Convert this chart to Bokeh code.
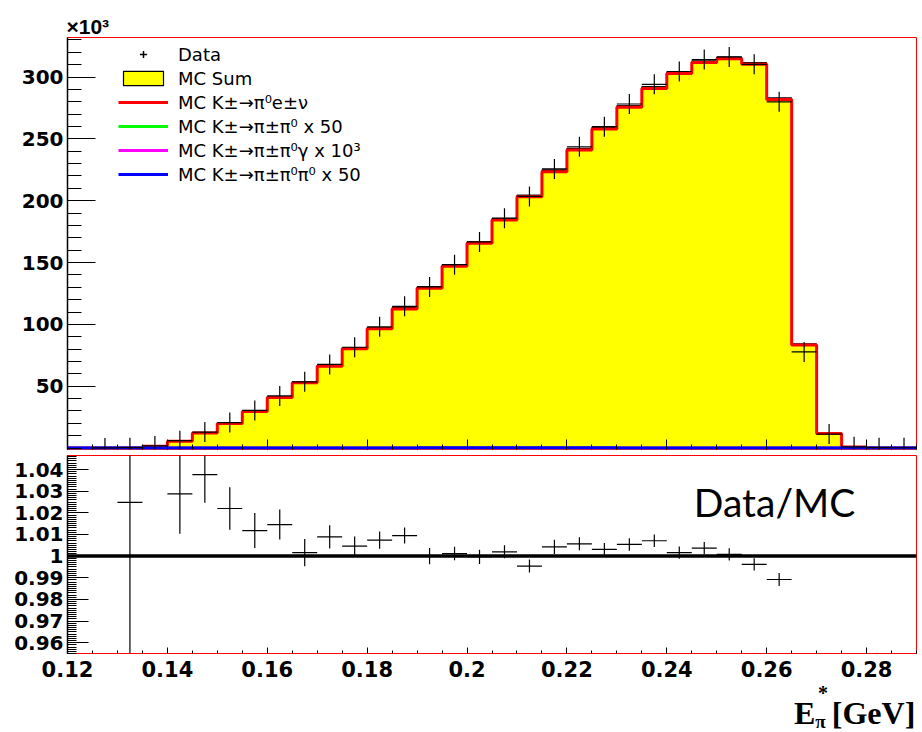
import numpy as np
from bokeh.plotting import figure
from bokeh.layouts import column
from bokeh.models import (FixedTicker, Span, Label, Legend, LegendItem, Range1d)
from bokeh.embed import file_html
from bokeh.resources import INLINE

nan = float("nan")

# ---------------- data (values in units of 10^3 entries) ----------------
bin_low = 0.12
bin_width = 0.005
n_bins = 34

mc_sum = [0.0, 0.05, 0.3, 1.6, 5.7, 12.4, 20.2, 30.0, 41.5, 53.4, 67.0, 81.1,
          97.3, 113.5, 130.3, 148.1, 166.7, 185.5, 204.4, 224.7, 242.2, 259.1,
          276.7, 292.0, 304.0, 313.0, 316.0, 311.5, 283.0, 84.0, 11.9, 1.0, 0.3, 0.2]

mc_ke3 = [0.0, 0.04, 0.28, 1.5, 5.5, 12.1, 19.8, 29.5, 40.9, 52.7, 66.2, 80.3,
          96.4, 112.5, 129.3, 147.0, 165.6, 184.4, 203.3, 223.5, 241.0, 257.9,
          275.5, 290.8, 302.8, 311.8, 314.8, 310.3, 281.9, 83.4, 11.7, 0.9, 0.25, 0.15]

mc_kp2_x50 = [0.0, 0.0, 0.0, 0.0, 0.01, 0.01, 0.02, 0.02, 0.03, 0.03, 0.04, 0.04,
              0.05, 0.05, 0.06, 0.06, 0.07, 0.07, 0.08, 0.08, 0.09, 0.09,
              0.1, 0.1, 0.1, 0.1, 0.1, 0.1, 0.09, 0.03, 0.01, 0.0, 0.0, 0.0]

mc_kp2g_x1000 = [0.0, 0.0, 0.0, 0.0, 0.01, 0.01, 0.01, 0.02, 0.02, 0.02, 0.03, 0.03,
                 0.03, 0.04, 0.04, 0.04, 0.05, 0.05, 0.05, 0.06, 0.06, 0.06,
                 0.07, 0.07, 0.07, 0.07, 0.07, 0.07, 0.06, 0.02, 0.0, 0.0, 0.0, 0.0]

mc_kp3_x50 = [0.0, 0.0, 0.0, 0.01, 0.02, 0.03, 0.04, 0.05, 0.06, 0.07, 0.08, 0.09,
              0.1, 0.11, 0.12, 0.12, 0.13, 0.13, 0.13, 0.13, 0.12, 0.12,
              0.11, 0.1, 0.09, 0.08, 0.07, 0.06, 0.05, 0.02, 0.0, 0.0, 0.0, 0.0]

data = [nan, 0.05, 0.31, 1.7, 5.9, 12.9, 20.6, 30.4, 42.1, 53.5, 67.6, 81.5,
        98.0, 114.6, 130.3, 148.3, 166.6, 185.9, 203.5, 225.7, 243.6, 259.9,
        278.2, 294.1, 304.5, 314.2, 316.3, 310.3, 280.0, 77.7, 11.3, 1.0, 0.3, 0.2]

ratio = [nan, nan, 1.0248, nan, 1.0288, 1.0377, 1.0220, 1.0118, 1.0146, 1.0016,
         1.0089, 1.0046, 1.0074, 1.0095, 1.0000, 1.0012, 0.9997, 1.0020, 0.9954,
         1.0043, 1.0057, 1.0031, 1.0054, 1.0071, 1.0016, 1.0037, 1.0008, 0.9962,
         0.9892, nan, nan, nan, nan, nan]

ratio_err = [nan, nan, 0.1, nan, 0.0185, 0.013, 0.0098, 0.0081, 0.0069, 0.0063,
             0.0054, 0.0045, 0.004, 0.0037, 0.0037, 0.0031, 0.0033, 0.003, 0.003,
             0.0033, 0.003, 0.003, 0.0029, 0.0029, 0.0028, 0.0028, 0.0028, 0.0028,
             0.003, nan, nan, nan, nan, nan]

x_ticks = [0.12, 0.14, 0.16, 0.18, 0.2, 0.22, 0.24, 0.26, 0.28]
x_tick_labels = ["0.12", "0.14", "0.16", "0.18", "0.2", "0.22", "0.24", "0.26", "0.28"]
y_ticks_top = [50, 100, 150, 200, 250, 300]
y_ticks_ratio = [0.96, 0.97, 0.98, 0.99, 1.0, 1.01, 1.02, 1.03, 1.04]
y_tick_labels_ratio = ["0.96", "0.97", "0.98", "0.99", "1", "1.01", "1.02", "1.03", "1.04"]

legend_labels = ["Data", "MC Sum", "MC K\u00b1\u2192\u03c0\u2070e\u00b1\u03bd",
                 "MC K\u00b1\u2192\u03c0\u00b1\u03c0\u2070 x 50",
                 "MC K\u00b1\u2192\u03c0\u00b1\u03c0\u2070\u03b3 x 10\u00b3",
                 "MC K\u00b1\u2192\u03c0\u00b1\u03c0\u2070\u03c0\u2070 x 50"]

# ---------------- derived arrays ----------------
edges = np.round(bin_low + bin_width * np.arange(n_bins + 1), 4)
lo = edges[:-1]
hi = edges[1:]
centers = np.round(lo + bin_width / 2, 5)


def ext(v):
    return list(v) + [v[-1]]


X0, X1 = 0.12, 0.29
TICK_FONT = "DejaVu Sans"
W = 922

# ---------------- top panel ----------------
p1 = figure(width=W, height=452, x_range=Range1d(X0, X1), y_range=Range1d(-1.2, 332),
            output_backend="svg", toolbar_location=None,
            min_border_left=67, min_border_right=6, min_border_top=37, min_border_bottom=3)
p1.title.text = "\u00d710\u00b3"
p1.title.text_font = "Liberation Sans"
p1.title.text_font_style = "bold"
p1.title.text_font_size = "21px"
p1.title.text_color = "black"
p1.title.align = "left"
p1.title.offset = -1
p1.title.standoff = 0
p1.xgrid.visible = False
p1.ygrid.visible = False
p1.outline_line_color = "red"
p1.outline_line_width = 1

p1.varea_step(x=edges, y1=[0] * (n_bins + 1), y2=ext(mc_sum), step_mode="after",
              fill_color="#ffff00")
p1.step(x=edges, y=ext(mc_sum), mode="after", line_color="black", line_width=1.2)
# bin tops of the MC sum (also gives the yellow/black legend box)
r_sum = p1.quad(left=lo, right=hi, bottom=mc_sum, top=mc_sum, fill_color="#ffff00",
                line_color="black", line_width=1.2)
r_ke3 = p1.step(x=edges, y=ext(mc_ke3), mode="after", line_color="#ff0000", line_width=3)
r_kp2 = p1.step(x=edges, y=ext(mc_kp2_x50), mode="after", line_color="#00ff00", line_width=3)
r_kp2g = p1.step(x=edges, y=ext(mc_kp2g_x1000), mode="after", line_color="#ff00ff", line_width=3)
r_kp3 = p1.step(x=edges, y=ext(mc_kp3_x50), mode="after", line_color="#0000ff", line_width=3)

# data crosses
p1.segment(x0=lo, x1=hi, y0=data, y1=data, line_color="black", line_width=1.2)
p1.scatter(x=centers, y=data, marker="dash", angle=np.pi / 2, size=20,
           line_color="black", line_width=1.2)
r_data = p1.scatter(x=centers, y=data, marker="cross", size=0,
                    line_color="black", line_width=1.5)

legend = Legend(items=[
    LegendItem(label=legend_labels[0], renderers=[r_data]),
    LegendItem(label=legend_labels[1], renderers=[r_sum]),
    LegendItem(label=legend_labels[2], renderers=[r_ke3]),
    LegendItem(label=legend_labels[3], renderers=[r_kp2]),
    LegendItem(label=legend_labels[4], renderers=[r_kp2g]),
    LegendItem(label=legend_labels[5], renderers=[r_kp3]),
], location=(51, 264))
legend.label_text_font = TICK_FONT
legend.label_text_font_size = "18px"
legend.label_text_color = "black"
legend.background_fill_alpha = 0
legend.border_line_alpha = 0
legend.padding = 0
legend.margin = 0
legend.spacing = 2
legend.glyph_width = 50
legend.glyph_height = 18
legend.label_height = 22
legend.label_standoff = 10
p1.add_layout(legend)

# axes top
p1.yaxis.ticker = FixedTicker(ticks=y_ticks_top, minor_ticks=list(range(0, 340, 10)))
p1.yaxis.major_tick_in = 28
p1.yaxis.major_tick_out = 0
p1.yaxis.minor_tick_in = 14
p1.yaxis.minor_tick_out = 0
p1.yaxis.major_label_text_font = TICK_FONT
p1.yaxis.major_label_text_font_style = "bold"
p1.yaxis.major_label_text_font_size = "20px"
p1.yaxis.major_label_text_color = "black"
p1.yaxis.major_label_standoff = 4
p1.yaxis.axis_line_color = "black"
p1.yaxis.axis_line_width = 1.5

p1.xaxis.ticker = FixedTicker(ticks=x_ticks,
                              minor_ticks=list(np.round(np.arange(0.12, 0.2901, 0.005), 4)))
p1.xaxis.major_tick_in = 10
p1.xaxis.major_tick_out = 0
p1.xaxis.minor_tick_in = 5
p1.xaxis.minor_tick_out = 0
p1.xaxis.major_label_overrides = {t: "" for t in x_ticks}
p1.xaxis.major_label_text_font_size = "0px"
p1.xaxis.major_label_standoff = 0
p1.xaxis.axis_line_color = None

# ---------------- ratio panel ----------------
p2 = figure(width=W, height=231, x_range=p1.x_range, y_range=Range1d(0.955, 1.0465),
            output_backend="svg", toolbar_location=None,
            min_border_left=67, min_border_right=6, min_border_top=3, min_border_bottom=30)
p2.xgrid.visible = False
p2.ygrid.visible = False
p2.outline_line_color = "red"
p2.outline_line_width = 1

p2.add_layout(Span(location=1.0, dimension="width", line_color="black", line_width=3.5))

r_lo = [r - e for r, e in zip(ratio, ratio_err)]
r_hi = [r + e for r, e in zip(ratio, ratio_err)]
p2.segment(x0=lo, x1=hi, y0=ratio, y1=ratio, line_color="black", line_width=1.2)
p2.segment(x0=centers, x1=centers, y0=r_lo, y1=r_hi, line_color="black", line_width=1.2)

p2.add_layout(Label(x=0.2454, y=1.0252, text="Data/MC", text_font="Lato",
                    text_font_size="39px", text_color="black",
                    text_baseline="middle", text_align="left"))

p2.yaxis.ticker = FixedTicker(ticks=y_ticks_ratio,
                              minor_ticks=list(np.round(np.arange(0.955, 1.0465, 0.001), 3)))
p2.yaxis.major_label_overrides = dict(zip(y_ticks_ratio, y_tick_labels_ratio))
p2.yaxis.major_tick_in = 21
p2.yaxis.major_tick_out = 0
p2.yaxis.minor_tick_in = 9
p2.yaxis.minor_tick_out = 0
p2.yaxis.major_label_text_font = TICK_FONT
p2.yaxis.major_label_text_font_style = "bold"
p2.yaxis.major_label_text_font_size = "20px"
p2.yaxis.major_label_text_color = "black"
p2.yaxis.major_label_standoff = 4
p2.yaxis.axis_line_color = "black"
p2.yaxis.axis_line_width = 1.5

p2.xaxis.ticker = FixedTicker(ticks=x_ticks,
                              minor_ticks=list(np.round(np.arange(0.12, 0.2901, 0.005), 4)))
p2.xaxis.major_label_overrides = dict(zip(x_ticks, x_tick_labels))
p2.xaxis.major_tick_in = 6
p2.xaxis.major_tick_out = 0
p2.xaxis.minor_tick_in = 3
p2.xaxis.minor_tick_out = 0
p2.xaxis.major_label_text_font = TICK_FONT
p2.xaxis.major_label_text_font_style = "bold"
p2.xaxis.major_label_text_font_size = "21px"
p2.xaxis.major_label_text_color = "black"
p2.xaxis.major_label_standoff = 7
p2.xaxis.axis_line_color = "red"

# ---------------- footer strip: axis title  E*_pi [GeV] ----------------
FH = 49
p3 = figure(width=W, height=FH, x_range=Range1d(0, W), y_range=Range1d(0, FH),
            output_backend="svg", toolbar_location=None,
            x_axis_location=None, y_axis_location=None,
            min_border_left=0, min_border_right=0, min_border_top=0, min_border_bottom=0)
p3.xgrid.visible = False
p3.ygrid.visible = False
p3.outline_line_color = None
SERIF = "Liberation Serif"
p3.add_layout(Label(x=789, y=19.5, text="E", text_font=SERIF, text_font_style="bold",
                    text_font_size="32px", text_color="black", text_baseline="middle"))
p3.add_layout(Label(x=815, y=40, text="*", text_font=SERIF, text_font_style="bold",
                    text_font_size="20px", text_color="black", text_baseline="middle"))
p3.add_layout(Label(x=812, y=11, text="\u03c0", text_font=SERIF, text_font_style="bold",
                    text_font_size="19px", text_color="black", text_baseline="middle"))
p3.add_layout(Label(x=830, y=19.5, text="[GeV]", text_font=SERIF, text_font_style="bold",
                    text_font_size="32px", text_color="black", text_baseline="middle"))

layout = column(p1, p2, p3, spacing=0)
open("out.html", "w").write(file_html(layout, INLINE))
